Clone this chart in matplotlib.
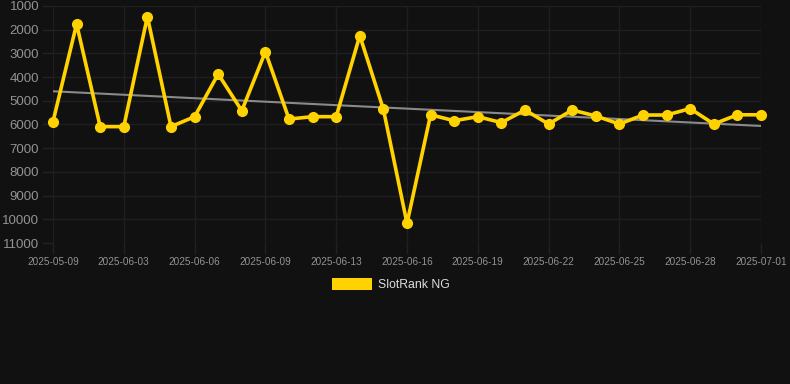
import numpy as np
import matplotlib.pyplot as plt
from matplotlib.patches import Rectangle

plt.rcParams['font.family'] = 'Liberation Sans'

# Data
dates = ['2025-05-09', '2025-05-10', '2025-05-11', '2025-06-03', '2025-06-04', '2025-06-05',
         '2025-06-06', '2025-06-07', '2025-06-08', '2025-06-09', '2025-06-10', '2025-06-12',
         '2025-06-13', '2025-06-14', '2025-06-15', '2025-06-16', '2025-06-17', '2025-06-18',
         '2025-06-19', '2025-06-20', '2025-06-21', '2025-06-22', '2025-06-23', '2025-06-24',
         '2025-06-25', '2025-06-26', '2025-06-27', '2025-06-28', '2025-06-29', '2025-06-30',
         '2025-07-01']
ranks = [5880, 1760, 6090, 6090, 1450, 6090, 5670, 3870, 5420, 2930, 5770, 5670,
         5670, 2250, 5360, 10170, 5590, 5840, 5670, 5920, 5390, 5980, 5390, 5640,
         5980, 5600, 5600, 5330, 5980, 5590, 5590]
series_name = 'SlotRank NG'
y_ticks = [1000, 2000, 3000, 4000, 5000, 6000, 7000, 8000, 9000, 10000, 11000]

bg = '#111111'
gold = '#FFD200'

fig = plt.figure(figsize=(7.9, 3.84), dpi=100, facecolor=bg)
ax = fig.add_axes([53 / 790, 1 - 243 / 384, 708 / 790, 237 / 384], facecolor=bg)

x = np.arange(len(ranks))

# trend line (linear fit)
k, b = np.polyfit(x, ranks, 1)
ax.plot(x, k * x + b, color='#8a8a8a', linewidth=1.5, zorder=2)

ax.plot(x, ranks, color=gold, linewidth=2.6, marker='o', markersize=7,
        markerfacecolor=gold, markeredgecolor=gold, markeredgewidth=1,
        zorder=3, clip_on=False)

ax.set_ylim(11000, 1000)
ax.set_xlim(0, len(ranks) - 1)
ax.set_yticks(y_ticks)
ax.set_yticklabels([str(t) for t in y_ticks])
ax.set_xticks(x[::3])
ax.set_xticklabels(dates[::3])

ax.grid(True, color='#1f1f1f', linewidth=1)
ax.set_axisbelow(True)
for s in ax.spines.values():
    s.set_visible(False)
ax.tick_params(axis='y', colors='#222222', labelcolor='#939393', labelsize=9.5,
               length=8, width=1, pad=2)
ax.tick_params(axis='x', colors='#222222', labelcolor='#939393', labelsize=7.2,
               length=8, width=1, pad=2)

# legend
fig.patches.append(Rectangle((332 / 790, 1 - 290 / 384), 40 / 790, 12 / 384,
                             transform=fig.transFigure, facecolor=gold, edgecolor='none'))
fig.text(378 / 790, 1 - 284.5 / 384, series_name, color='#dddddd', fontsize=8.8,
         va='center', ha='left')

fig.savefig('out.png', dpi=100, facecolor=bg)
